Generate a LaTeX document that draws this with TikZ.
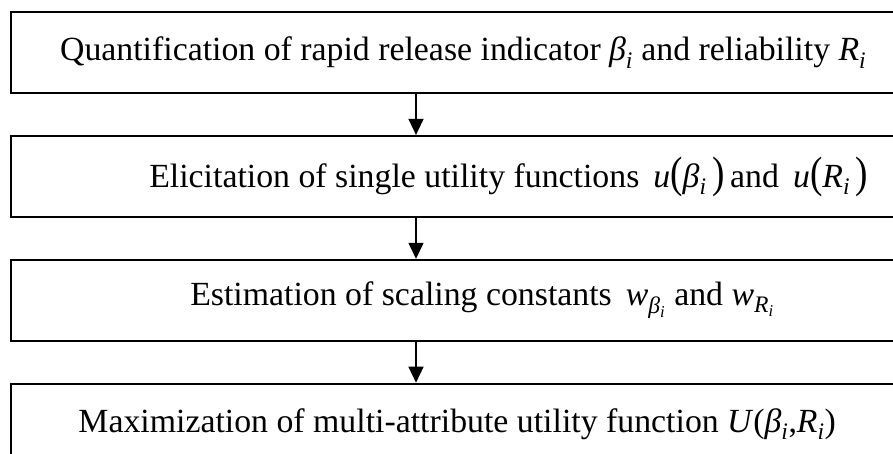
\documentclass[tikz,border=0pt]{standalone}
\usepackage{fontspec}
\setmainfont{Liberation Serif}
\usetikzlibrary{arrows.meta, positioning}
\newcommand{\itsub}[2]{\textit{#1}\textsubscript{\textit{#2}}}
\newcommand{\tallparen}[1]{\scalebox{1.1}[1.3]{#1}}

\begin{document}
\begin{tikzpicture}[x=1pt, y=1pt, node distance=40.5pt,
				box/.style={draw, line width=2.4pt, minimum height=81pt, inner sep=0pt, font=\fontsize{33.8}{40}\selectfont},
				arrow/.style={-{Triangle[length=16pt, width=15pt]}, line width=1.4pt}]
				\path[use as bounding box, clip] (0,0) rectangle (893,-453);
				
				\node[box, minimum width=904pt, anchor=north west] (quant) at (10,-11) {Quantification of rapid release indicator \itsub{β}{i} and reliability \itsub{R}{i}};
				\node[box, minimum width=995pt, below=of quant.south west, anchor=north west] (elic) {Elicitation of single utility functions \,\textit{u}\tallparen{(}\itsub{β}{i}\,\tallparen{)}\,and \,\textit{u}\tallparen{(}\itsub{R}{i}\,\tallparen{)}};
				\node[box, minimum width=942pt, below=of elic.south west, anchor=north west] (scal) {Estimation of scaling constants \,\textit{w}\textsubscript{\itsub{β}{i}} and \textit{w}\textsubscript{\itsub{R}{i}}};
				\node[box, minimum width=892pt, below=of scal.south west, anchor=north west] (maxi) {Maximization of multi-attribute utility function \textit{U}(\itsub{β}{i},\itsub{R}{i})};
				
				\coordinate (axis) at (416,0);
				\draw[arrow] (quant.south -| axis) -- (elic.north -| axis);
				\draw[arrow] (elic.south -| axis) -- (scal.north -| axis);
				\draw[arrow] (scal.south -| axis) -- (maxi.north -| axis);
			\end{tikzpicture}
\end{document}
